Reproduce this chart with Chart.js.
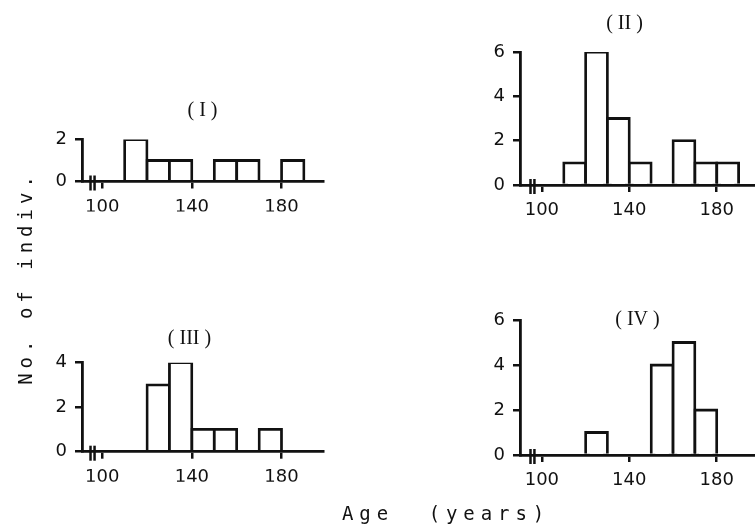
<!DOCTYPE html>
<html lang="en">
<head>
    <meta charset="UTF-8">
    <title>No. of indiv. by age</title>
    <script src="https://cdn.jsdelivr.net/npm/chart.js@4.4.1/dist/chart.umd.min.js"></script>
    <style>
        body {
            margin: 0;
            padding: 0;
            background: #ffffff;
        }

        .page {
            position: relative;
            width: 755px;
            height: 527px;
            overflow: hidden;
            background: #fff;
        }

        .page canvas {
            position: absolute;
            left: 0;
            top: 0;
        }

        .ytitle {
            position: absolute;
            left: -105px;
            top: 266px;
            width: 260px;
            height: 24px;
            line-height: 24px;
            text-align: center;
            transform: rotate(-90deg);
            font-family: 'DejaVu Sans Mono', monospace;
            font-size: 19px;
            letter-spacing: 5px;
            color: #111;
            white-space: pre;
        }

        .xtitle {
            position: absolute;
            left: 342px;
            top: 501px;
            height: 24px;
            line-height: 24px;
            font-family: 'DejaVu Sans Mono', monospace;
            font-size: 19px;
            letter-spacing: 5.9px;
            color: #111;
            white-space: pre;
        }
    </style>
</head>
<body>

<div class="page">
    <canvas id="p1" width="755" height="527"></canvas>
    <canvas id="p2" width="755" height="527"></canvas>
    <canvas id="p3" width="755" height="527"></canvas>
    <canvas id="p4" width="755" height="527"></canvas>
    <div class="ytitle">No. of indiv.</div>
    <div class="xtitle">Age  (years)</div>
</div>

<script>
    // age classes (lower edge of each 10-year bin)
    var binStarts = [100, 110, 120, 130, 140, 150, 160, 170, 180, 190];

    // number of individuals per bin, one list per panel
    var countsI   = [0, 2, 1, 1, 0, 1, 1, 0, 1, 0];
    var countsII  = [0, 1, 6, 3, 1, 0, 2, 1, 1, 0];
    var countsIII = [0, 0, 3, 4, 1, 1, 0, 1, 0, 0];
    var countsIV  = [0, 0, 1, 0, 0, 4, 5, 2, 0, 0];

    var panelTitles = ['( I )', '( II )', '( III )', '( IV )'];
    var yMaxes = [2, 6, 4, 6];
    var xTicks = [100, 140, 180];
    var axisBreak = [94.8, 96.6];

    var ink = '#111';

    // where each panel sits on the page (chart area edges, title centre)
    var panels = [
        { id: 'p1', counts: countsI,   left: 82,  right: 323, top: 139.5, bottom: 181.5, titleY: 111, wideTitle: false, xMin: 91, xMax: 198.5 },
        { id: 'p2', counts: countsII,  left: 520, right: 755, top: 52,    bottom: 185,   titleY: 24,  wideTitle: true,  xMin: 90, xMax: 197.5 },
        { id: 'p3', counts: countsIII, left: 82,  right: 323, top: 362.7, bottom: 451.7, titleY: 339, wideTitle: true,  xMin: 91, xMax: 198.5 },
        { id: 'p4', counts: countsIV,  left: 520, right: 755, top: 320,   bottom: 455,   titleY: 320, wideTitle: false, xMin: 90, xMax: 197.5 }
    ];
    var yW = 26;

    // little "||" break marks across the x axis near the origin
    var breakMarks = {
        id: 'breakMarks',
        afterDraw: function (chart) {
            var ctx = chart.ctx;
            var xs = chart.scales.x;
            var y0 = chart.scales.y.getPixelForValue(0);
            ctx.save();
            ctx.strokeStyle = ink;
            ctx.lineWidth = 2.5;
            axisBreak.forEach(function (v) {
                var px = xs.getPixelForValue(v);
                ctx.beginPath();
                ctx.moveTo(px, y0 - 6);
                ctx.lineTo(px, y0 + 9);
                ctx.stroke();
            });
            ctx.restore();
        }
    };

    function createPanel(p, i) {
        var data = binStarts.map(function (b, k) {
            return { x: b + 5, y: p.counts[k] };
        });
        var lineH = 20 * 1.2;

        new Chart(document.getElementById(p.id).getContext('2d'), {
            type: 'bar',
            data: {
                datasets: [{
                    data: data,
                    backgroundColor: '#ffffff',
                    borderColor: ink,
                    borderWidth: 2.8,
                    inflateAmount: 1.4,
                    borderSkipped: 'start',
                    barPercentage: 1,
                    categoryPercentage: 1
                }]
            },
            options: {
                responsive: false,
                animation: false,
                layout: {
                    padding: {
                        left: p.left - yW,
                        top: p.titleY - lineH / 2,
                        right: 755 - p.right,
                        bottom: 527 - p.bottom - 30
                    }
                },
                plugins: {
                    legend: { display: false },
                    tooltip: { enabled: false },
                    title: {
                        display: true,
                        fullSize: p.wideTitle,
                        text: panelTitles[i],
                        color: ink,
                        font: { family: 'Liberation Serif', size: 20, weight: 'normal' },
                        padding: { top: 0, bottom: p.top - p.titleY - lineH / 2 }
                    }
                },
                scales: {
                    x: {
                        type: 'linear',
                        offset: false,
                        min: p.xMin,
                        max: p.xMax,
                        afterBuildTicks: function (s) {
                            s.ticks = xTicks.map(function (v) { return { value: v }; });
                        },
                        afterFit: function (s) { s.height = 30; },
                        grid: { display: true, offset: false, drawOnChartArea: false, drawTicks: true, tickLength: 7, color: ink, lineWidth: 2.5 },
                        border: { display: true, color: ink, width: 2.8, z: 1 },
                        ticks: {
                            color: ink,
                            padding: 8,
                            maxRotation: 0,
                            autoSkip: false,
                            font: { family: 'DejaVu Sans', size: 18 }
                        }
                    },
                    y: {
                        min: 0,
                        max: yMaxes[i],
                        afterFit: function (s) { s.width = yW; },
                        grid: { display: true, drawOnChartArea: false, drawTicks: true, tickLength: 7, color: ink, lineWidth: 2.5 },
                        border: { display: true, color: ink, width: 2.8, z: 1 },
                        ticks: {
                            stepSize: 2,
                            color: ink,
                            padding: 8,
                            font: { family: 'DejaVu Sans', size: 18 }
                        }
                    }
                }
            },
            plugins: [breakMarks]
        });
    }

    panels.forEach(createPanel);
</script>
</body>
</html>
